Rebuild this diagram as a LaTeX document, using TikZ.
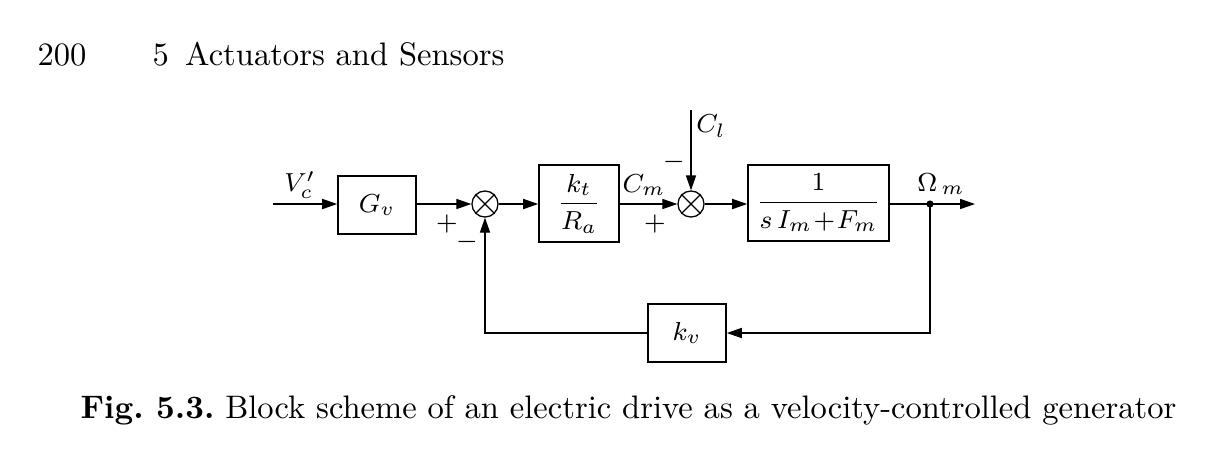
\documentclass[tikz,border=0pt]{standalone}
\usetikzlibrary{arrows.meta}
\begin{document}
\begin{tikzpicture}[x=0.307pt,y=-0.307pt,
  blk/.style={draw,line width=0.5pt,inner sep=0pt,anchor=center,font=\fontsize{8.2}{10}\selectfont},
  sumc/.style={draw,circle,line width=0.4pt,minimum size=8pt,inner sep=0pt},
  sig/.style={line width=0.4pt,-{Triangle[length=4.6pt,width=3.1pt]}},
  ln/.style={line width=0.4pt},
  lbl/.style={inner sep=0pt,anchor=center,font=\fontsize{8.2}{10}\selectfont}]
\useasboundingbox (0,0) rectangle (1211,472);
% header and caption
\node[anchor=base west,inner sep=0pt] (pg) at (37,65) {200};
\node[anchor=base west,inner sep=0pt] (hd) at (152,65) {5\enspace Actuators and Sensors};
\node[anchor=base west,inner sep=0pt] (cap) at (80,418) {\frenchspacing\textbf{Fig. 5.3.} Block scheme of an electric drive as a velocity-controlled generator};
% blocks
\node[blk,minimum width=78*0.307pt,minimum height=58*0.307pt] (gv) at (377,205) {$G_v$};
\node[blk,minimum width=80*0.307pt,minimum height=77*0.307pt] (kr) at (579,203.5) {$\displaystyle\frac{k_t}{R_a}$};
\node[blk,minimum width=141*0.307pt,minimum height=76*0.307pt] (pl) at (818.5,203) {$\displaystyle\frac{1}{s\,I_m\!+\!F_m}$};
\node[blk,minimum width=78*0.307pt,minimum height=58*0.307pt] (kv) at (687,333) {$k_v$};
% summing junctions
\node[sumc] (s1) at (485,204) {};
\draw[ln] (s1.north west) -- (s1.south east) (s1.north east) -- (s1.south west);
\node[sumc] (s2) at (691,204) {};
\draw[ln] (s2.north west) -- (s2.south east) (s2.north east) -- (s2.south west);
% coordinates
\coordinate (in) at (273,204);
\coordinate (cl) at (691,110);
\coordinate (out) at (975,204);
\coordinate (br) at (930,204);
\coordinate (c1) at (930,333);
\coordinate (c2) at (485,333);
% connectors
\draw[sig] (in) -- (gv.west |- in);
\draw[sig] (gv.east |- s1) -- (s1.west);
\draw[sig] (s1.east) -- (kr.west |- s1);
\draw[sig] (kr.east |- s2) -- (s2.west);
\draw[sig] (cl) -- (s2.north);
\draw[sig] (s2.east) -- (pl.west |- s2);
\draw[sig] (pl.east |- out) -- (out);
\draw[sig] (br) -- (c1) -- (kv.east |- c1);
\draw[sig] (kv.west |- c2) -- (c2) -- (s1.south);
\fill (br) circle (1.1pt);
% labels
\node[lbl] (lvc) at (300,185) {$V_c'$};
\node[lbl] (p1) at (447,224) {$+$};
\node[lbl] (m1) at (467,242) {$-$};
\node[lbl] (lcm) at (644,185) {$C_m$};
\node[lbl] (p2) at (655,224) {$+$};
\node[lbl] (m2) at (674,162) {$-$};
\node[lbl] (lcl) at (711,126) {$C_l$};
\node[lbl] (lom) at (941,184) {$\Omega_{\,m}$};
\end{tikzpicture}
\end{document}
